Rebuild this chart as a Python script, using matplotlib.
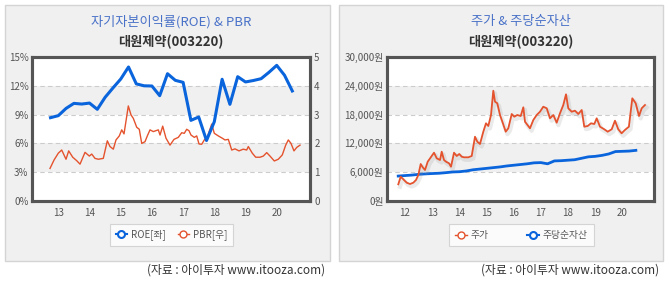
import matplotlib

matplotlib.use("Agg")
import matplotlib.pyplot as plt
import matplotlib.patheffects as pe
from matplotlib.lines import Line2D
from matplotlib.patches import Rectangle

plt.rcParams["font.family"] = ["Noto Sans CJK KR", "DejaVu Sans"]

# ---- left chart: ROE (quarterly, %) and PBR (x) ----
roe_years = [12.75 + 0.25 * i for i in range(32)]
roe_values = [8.68, 8.89, 9.65, 10.17, 10.1, 10.2, 9.55, 10.8, 11.77, 12.7, 13.96, 12.2,
              12.0, 11.98, 10.97, 13.26, 12.57, 12.36, 8.4, 8.75, 6.3, 8.26, 12.68, 10.07,
              12.95, 12.4, 12.55, 12.74, 13.4, 14.13, 13.1, 11.46]

pbr_years = [12.734, 12.862, 13.0, 13.109, 13.247, 13.333, 13.462, 13.59, 13.696, 13.856,
             13.994, 14.071, 14.176, 14.282, 14.442, 14.571, 14.657, 14.763, 14.849, 14.955,
             15.032, 15.106, 15.244, 15.33, 15.404, 15.513, 15.596, 15.673, 15.779, 15.853,
             15.939, 16.045, 16.205, 16.26, 16.346, 16.452, 16.58, 16.708, 16.846, 16.955,
             17.038, 17.115, 17.189, 17.253, 17.359, 17.436, 17.51, 17.596, 17.679, 17.788,
             17.917, 18.0, 18.128, 18.256, 18.343, 18.449, 18.558, 18.663, 18.792, 18.929,
             19.038, 19.09, 19.218, 19.327, 19.465, 19.571, 19.679, 19.785, 19.923, 20.051,
             20.179, 20.288, 20.372, 20.458, 20.554, 20.641, 20.747]
pbr_values = [1.13, 1.42, 1.66, 1.77, 1.45, 1.74, 1.52, 1.40, 1.28, 1.69,
              1.56, 1.63, 1.48, 1.45, 1.48, 2.09, 1.89, 1.80, 2.12, 2.26,
              2.47, 2.33, 3.30, 2.99, 2.87, 2.56, 2.49, 2.00, 2.06, 2.26,
              2.47, 2.41, 2.47, 2.29, 2.60, 2.18, 1.94, 2.14, 2.21, 2.37,
              2.35, 2.49, 2.44, 2.29, 2.21, 2.26, 1.98, 1.97, 2.12, 2.26,
              2.67, 2.35, 2.26, 2.18, 2.12, 2.14, 1.77, 1.81, 1.74, 1.80,
              1.77, 1.89, 1.66, 1.52, 1.52, 1.56, 1.68, 1.56, 1.39, 1.45,
              1.60, 1.94, 2.12, 2.00, 1.74, 1.86, 1.94]

# ---- right chart: share price and BPS (won) ----
price_years = [11.753, 11.84, 11.937, 12.063, 12.184, 12.306, 12.405, 12.49, 12.578, 12.652,
               12.736, 12.836, 12.983, 13.068, 13.167, 13.289, 13.351, 13.436, 13.51, 13.62,
               13.694, 13.804, 13.904, 13.999, 14.088, 14.172, 14.33, 14.456, 14.577, 14.662,
               14.761, 14.883, 14.982, 15.067, 15.166, 15.251, 15.314, 15.398, 15.498, 15.597,
               15.708, 15.803, 15.929, 16.024, 16.135, 16.26, 16.356, 16.418, 16.602, 16.724,
               16.849, 16.97, 17.092, 17.218, 17.339, 17.46, 17.585, 17.706, 17.828, 17.928,
               18.012, 18.137, 18.259, 18.38, 18.506, 18.601, 18.727, 18.848, 18.97, 19.058,
               19.18, 19.338, 19.463, 19.61, 19.731, 19.853, 19.975, 20.096, 20.243, 20.369,
               20.494, 20.616, 20.715, 20.836]
price_values = [3479, 5063, 4521, 3813, 3542, 3813, 4375, 5417, 7708, 7021,
                6458, 8188, 9375, 10063, 8896, 8542, 10271, 8542, 8188, 7854,
                7146, 10063, 9375, 9792, 9229, 9104, 9104, 9375, 13396, 12354,
                11875, 14438, 16188, 15625, 17917, 22979, 20688, 20354, 17917, 16313,
                14438, 15146, 18125, 17563, 17917, 17708, 19521, 16521, 15146, 16875,
                17917, 18604, 19646, 19313, 17229, 17917, 16313, 18271, 20000, 22229,
                19313, 18604, 18813, 18125, 18958, 15479, 15625, 16188, 16042, 17229,
                15479, 14938, 14438, 14938, 16729, 14938, 14104, 14792, 15479, 21396,
                20354, 17708, 19313, 20000]

bps_years = [11.75 + 0.25 * i for i in range(36)]
bps_values = [5200, 5300, 5400, 5550, 5650, 5720, 5780, 5900, 6050, 6100, 6250, 6500,
              6650, 6800, 6950, 7100, 7300, 7450, 7600, 7750, 7950, 8000, 7750, 8350,
              8400, 8500, 8600, 8900, 9200, 9300, 9500, 9800, 10300, 10350, 10400, 10550]

left_years = [13, 14, 15, 16, 17, 18, 19, 20]
right_years = [12, 13, 14, 15, 16, 17, 18, 19, 20]

W, H = 669, 282
BLUE = "#0a64dc"
RED = "#e4532e"
FRAME = "#555555"
PANEL = "#f0f0f0"
TXT = "#555555"


def box(x0, y0, x1, y1):
    # pixel box (top-left origin) -> figure fraction rect
    return [x0 / W, 1 - y1 / H, (x1 - x0) / W, (y1 - y0) / H]


def style_axes(ax_back, ax_front, band_pairs, grid_levels):
    for lo, hi in band_pairs:
        ax_back.axhspan(lo, hi, color=PANEL, zorder=0, lw=0)
    for g in grid_levels:
        ax_back.axhline(g, color="#cccccc", lw=0.8, ls=(0, (4, 3)), zorder=0.5)
    ax_back.patch.set_visible(True)
    ax_back.patch.set_facecolor("white")
    ax_front.set_zorder(ax_back.get_zorder() + 1)
    ax_front.patch.set_visible(False)
    for a in (ax_back, ax_front):
        for s in a.spines.values():
            s.set_color(FRAME)
            s.set_linewidth(2.2)
        a.tick_params(length=0, labelsize=7, colors=TXT)
    ax_front.tick_params(axis="y", pad=2.5)
    ax_front.tick_params(axis="x", pad=5)


fig = plt.figure(figsize=(W / 100, H / 100), dpi=100)

# panel backgrounds
for x0, x1 in [(5, 330), (339, 663)]:
    fig.add_artist(Rectangle((x0 / W, 1 - 261 / H), (x1 - x0) / W, 256 / H,
                             transform=fig.transFigure, facecolor=PANEL,
                             edgecolor="#d4d4d4", lw=1, zorder=0))

# ---------- left panel ----------
axL = fig.add_axes(box(32, 57, 310, 201))
axL2 = axL.twinx()
axL2.set_zorder(1)
axL.set_zorder(2)
style_axes(axL2, axL, [(1, 2), (3, 4)], [1, 2, 3, 4])
axL2.plot(pbr_years, pbr_values, color=RED, lw=1.0, zorder=2)
axL.plot(roe_years, roe_values, color=BLUE, lw=2.2, zorder=3)
axL.set_xlim(12.157, 21.067)
axL.set_ylim(0, 15)
axL2.set_ylim(0, 5)
axL.set_yticks([0, 3, 6, 9, 12, 15], [f"{v}%" for v in [0, 3, 6, 9, 12, 15]])
axL2.set_yticks([0, 1, 2, 3, 4, 5])
axL2.tick_params(axis="y", pad=3)
axL.set_xticks(left_years, [str(y) for y in left_years])

fig.text(171 / W, 1 - 22 / H, "자기자본이익률(ROE) & PBR", ha="center", va="center",
         fontsize=9.5, color="#4a72c8")
fig.text(171 / W, 1 - 42 / H, "대원제약(003220)", ha="center", va="center",
         fontsize=9.5, color="#333333", fontweight="bold")

handles = [Line2D([], [], color=BLUE, lw=1.5, marker="o", ms=5, mfc="white", mew=1.5),
           Line2D([], [], color=RED, lw=1.0, marker="o", ms=5, mfc="white", mew=1.0)]
legL = fig.legend(handles, ["ROE[좌]", "PBR[우]"], loc="center",
                  bbox_to_anchor=(171.5 / W, 1 - 235 / H), ncol=2, fontsize=7,
                  frameon=True, fancybox=False, edgecolor="#cccccc", handlelength=1.2,
                  handletextpad=0.4, columnspacing=1.2, borderpad=0.6)
legL.get_frame().set_linewidth(0.8)
for t in legL.get_texts():
    t.set_color(TXT)

fig.text(325 / W, 1 - 270 / H, "(자료 : 아이투자 www.itooza.com)", ha="right", va="center",
         fontsize=8.5, color="#333333")

# ---------- right panel ----------
axR = fig.add_axes(box(387, 57, 654, 201))
axRb = axR.twinx()
axRb.set_zorder(1)
axR.set_zorder(2)
style_axes(axRb, axR, [(6000, 12000), (18000, 24000)], [6000, 12000, 18000, 24000])
axRb.set_ylim(0, 30000)
axRb.set_yticks([])
axR.plot(price_years, price_values, color=RED, lw=1.3, zorder=3,
         path_effects=[pe.SimpleLineShadow(offset=(1.2, -1.8), shadow_color="#999999", alpha=0.2, linewidth=3.0),
                       pe.Normal()])
axR.plot(bps_years, bps_values, color=BLUE, lw=2.0, zorder=2)
axR.set_xlim(11.337, 21.168)
axR.set_ylim(0, 30000)
yt = [0, 6000, 12000, 18000, 24000, 30000]
axR.set_yticks(yt, [f"{v:,}원" for v in yt])
axR.set_xticks(right_years, [str(y) for y in right_years])

fig.text(521 / W, 1 - 22 / H, "주가 & 주당순자산", ha="center", va="center",
         fontsize=9.5, color="#4a72c8")
fig.text(521 / W, 1 - 42 / H, "대원제약(003220)", ha="center", va="center",
         fontsize=9.5, color="#333333", fontweight="bold")

handles = [Line2D([], [], color=RED, lw=1.0, marker="o", ms=5, mfc="white", mew=1.0),
           Line2D([], [], color=BLUE, lw=1.5, marker="o", ms=5, mfc="white", mew=1.5)]
legR = fig.legend(handles, ["주가", "주당순자산"], loc="center",
                  bbox_to_anchor=(521.5 / W, 1 - 235 / H), ncol=2, fontsize=7,
                  frameon=True, fancybox=False, edgecolor="#cccccc", handlelength=1.2,
                  handletextpad=0.4, columnspacing=4.0, borderpad=0.6)
legR.get_frame().set_linewidth(0.8)
for t in legR.get_texts():
    t.set_color(TXT)

fig.text(659 / W, 1 - 270 / H, "(자료 : 아이투자 www.itooza.com)", ha="right", va="center",
         fontsize=8.5, color="#333333")

fig.savefig("out.png", dpi=100, facecolor="white")
plt.close(fig)
